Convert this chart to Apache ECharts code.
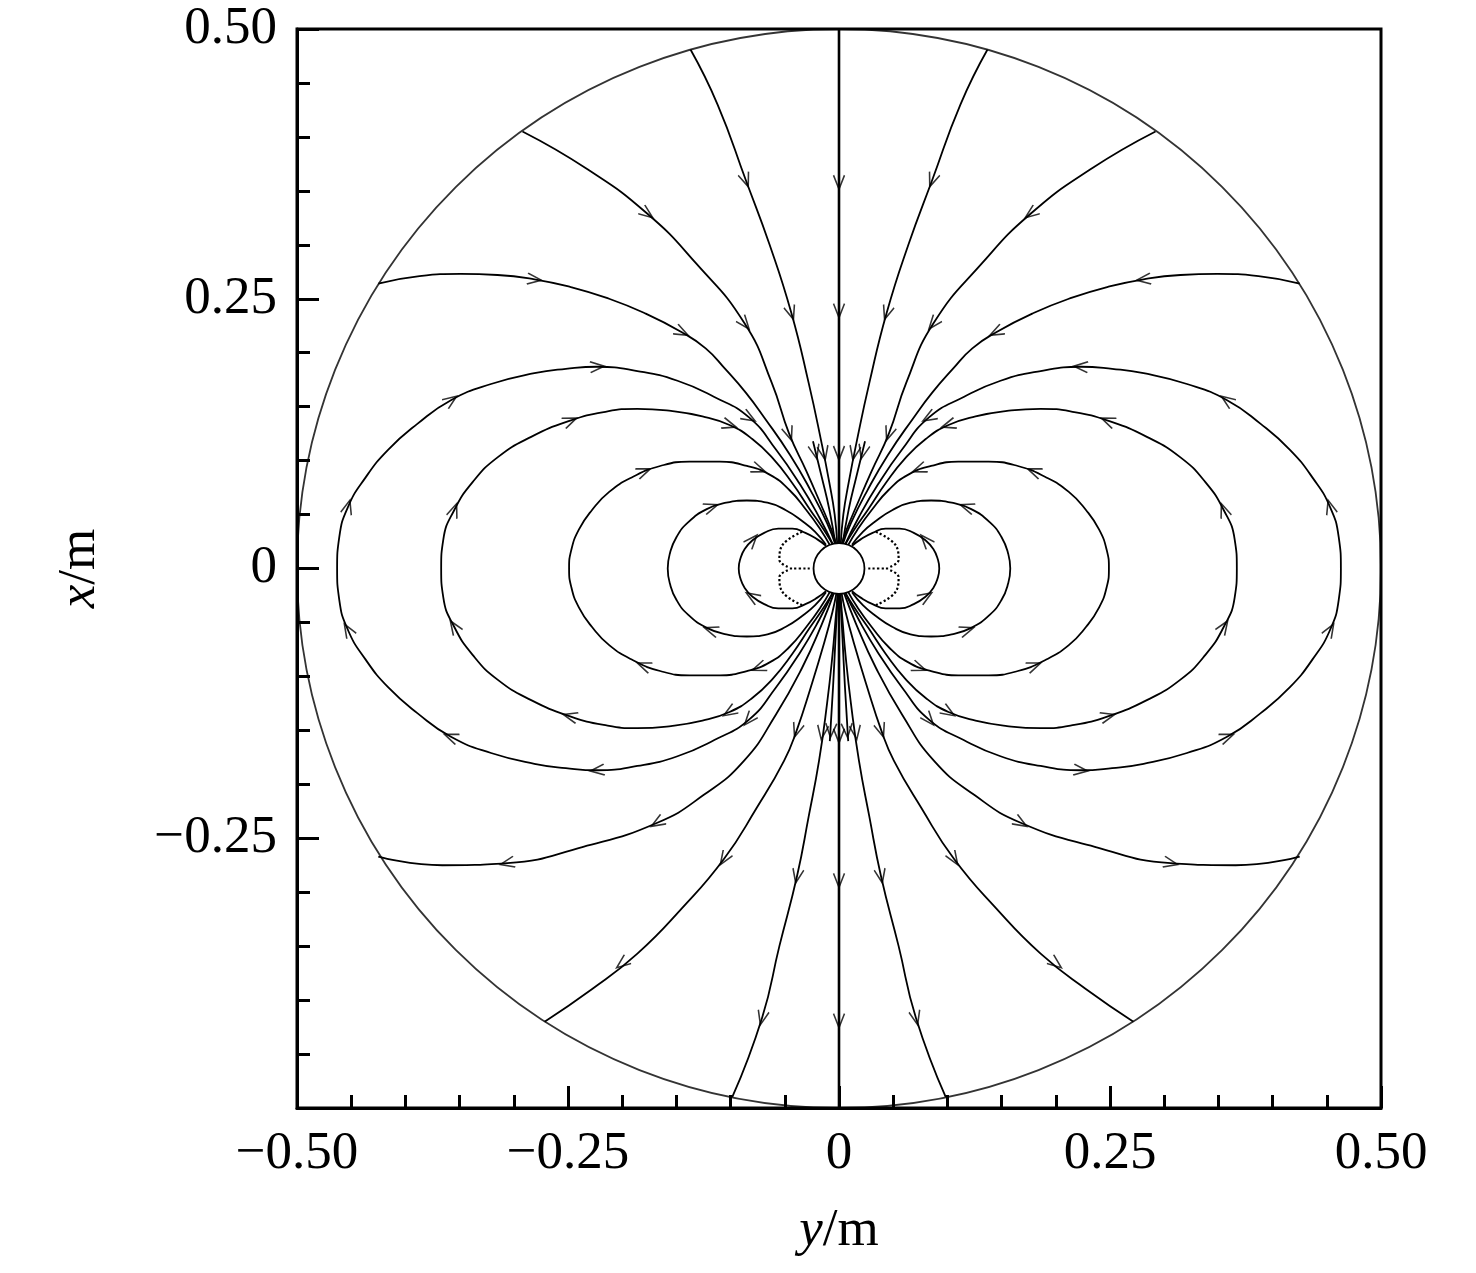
<!DOCTYPE html>
<html>
<head>
<meta charset="utf-8">
<title>field lines</title>
<script src="https://cdn.jsdelivr.net/npm/echarts/dist/echarts.min.js"></script>
<style>
html, body { margin: 0; padding: 0; background: #fff; }
#main { width: 1476px; height: 1273px; }
</style>
</head>
<body>
<div id="main"></div>
<script>
// axis range (m)
var axisMin = -0.5, axisMax = 0.5, axisStep = 0.25;

// boundary circles (m)
var outerRadius = 0.5;
var innerRadius = 0.0235;

// straight field line on the axis, top to bottom
var verticalLine = [[0, 0.5], [0, -0.5]];

// right half, upper side: from the outer circle in to the pole
var topOpenLines = [
	[[0.137, 0.481], [0.112, 0.430], [0.086, 0.360], [0.064, 0.300], [0.044, 0.237], [0.028, 0.172], [0.016, 0.116], [0.009, 0.080], [0.004, 0.050], [0.0015, 0.021]],
	[[0.292, 0.405], [0.232, 0.370], [0.177, 0.329], [0.132, 0.283], [0.087, 0.227], [0.062, 0.172], [0.046, 0.125], [0.030, 0.090], [0.017, 0.060], [0.007, 0.036], [0.002, 0.021]],
	[[0.425, 0.264], [0.387, 0.271], [0.349, 0.273], [0.315, 0.272], [0.281, 0.268], [0.248, 0.261], [0.215, 0.251], [0.180, 0.237], [0.145, 0.219], [0.123, 0.204], [0.105, 0.185], [0.086, 0.163], [0.069, 0.140], [0.045, 0.105], [0.026, 0.072], [0.011, 0.042], [0.003, 0.021]]
];
var topShortLines = [
	[[0.024, 0.118], [0.016, 0.085], [0.009, 0.055], [0.003, 0.021]]
];

// right half, lower side: from the outer circle in to the pole
var bottomOpenLines = [
	[[0.0985, -0.490], [0.071, -0.4165], [0.055, -0.350], [0.0387, -0.285], [0.028, -0.230], [0.0184, -0.178], [0.011, -0.125], [0.006, -0.080], [0.003, -0.045], [0.001, -0.021]],
	[[0.2716, -0.420], [0.228, -0.390], [0.186, -0.357], [0.145, -0.315], [0.106, -0.269], [0.076, -0.222], [0.0506, -0.178], [0.039, -0.150], [0.026, -0.110], [0.014, -0.070], [0.006, -0.040], [0.002, -0.021]],
	[[0.425, -0.267], [0.366, -0.275], [0.306, -0.273], [0.236, -0.258], [0.1676, -0.2356], [0.125, -0.210], [0.0875, -0.178], [0.058, -0.135], [0.034, -0.092], [0.016, -0.052], [0.004, -0.021]]
];
var bottomShortLines = [
	[[0.0085, -0.160], [0.0055, -0.110], [0.003, -0.060], [0.001, -0.021]]
];

// closed loops, upper half: from the equator in to the pole
var loopHalves = [
	[[0.463, 0], [0.461, 0.029], [0.453, 0.057], [0.437, 0.084], [0.416, 0.110], [0.389, 0.134], [0.358, 0.156], [0.321, 0.171], [0.281, 0.181], [0.252, 0.185], [0.223, 0.187], [0.186, 0.183], [0.149, 0.174], [0.115, 0.159], [0.083, 0.140], [0.058, 0.110], [0.036, 0.078], [0.018, 0.047], [0.005, 0.021]],
	[[0.367, 0], [0.365, 0.027], [0.355, 0.054], [0.338, 0.080], [0.315, 0.103], [0.284, 0.122], [0.248, 0.137], [0.217, 0.145], [0.186, 0.148], [0.155, 0.146], [0.126, 0.141], [0.101, 0.133], [0.080, 0.120], [0.061, 0.102], [0.043, 0.079], [0.027, 0.055], [0.014, 0.036], [0.005, 0.021]],
	[[0.249, 0], [0.247, 0.017], [0.240, 0.036], [0.228, 0.054], [0.212, 0.071], [0.190, 0.085], [0.165, 0.095], [0.138, 0.099], [0.110, 0.099], [0.085, 0.095], [0.064, 0.087], [0.046, 0.073], [0.030, 0.054], [0.017, 0.036], [0.008, 0.021]],
	[[0.158, 0], [0.156, 0.014], [0.150, 0.029], [0.139, 0.043], [0.122, 0.055], [0.104, 0.061], [0.085, 0.063], [0.066, 0.061], [0.049, 0.054], [0.034, 0.044], [0.022, 0.034], [0.012, 0.022]],
	[[0.0925, 0], [0.091, 0.009], [0.087, 0.018], [0.080, 0.026], [0.069, 0.033], [0.056, 0.037], [0.043, 0.037], [0.031, 0.033], [0.020, 0.027], [0.012, 0.021]]
];

// broken bits of line left between the inner loop and the pole circle
var noiseCurves = [
	[[0.034, 0.034], [0.052, 0.022], [0.055, 0.008], [0.046, 0.001]],
	[[0.034, -0.034], [0.052, -0.022], [0.055, -0.008], [0.046, -0.001]],
	[[0.027, 0], [0.046, 0]]
];

// arrow heads (right half)
var topArrows = [
	[0, 0.358], [0, 0.239], [0, 0.107],
	[0.086, 0.360], [0.044, 0.237], [0.014, 0.107],
	[0.177, 0.329], [0.087, 0.227], [0.046, 0.125],
	[0.281, 0.268], [0.145, 0.219],
	[0.022, 0.108]
];
var bottomArrows = [
	[0, -0.155], [0, -0.289], [0, -0.419],
	[0.0155, -0.152], [0.0387, -0.285], [0.071, -0.4165],
	[0.039, -0.150], [0.106, -0.269], [0.200, -0.366],
	[0.1676, -0.2356], [0.306, -0.273],
	[0.0075, -0.150]
];
var loopArrows = [
	[0.453, 0.057], [0.358, 0.156], [0.223, 0.187], [0.083, 0.140],
	[0.355, 0.054], [0.248, 0.137], [0.101, 0.133],
	[0.180, 0.090], [0.074, 0.092],
	[0.118, 0.057],
	[0.080, 0.026]
];

var chartW = 1476, chartH = 1273;
var gridLeft = 297, gridRight = 95, gridTop = 29, gridBottom = 165;
var pxX = (chartW - gridLeft - gridRight) / (axisMax - axisMin);
var pxY = (chartH - gridTop - gridBottom) / (axisMax - axisMin);
var serif = 'Liberation Serif, Times New Roman, serif';

function mirrorH(p) { return p.map(function (q) { return [-q[0], q[1]]; }); }
function mirrorV(p) { return p.map(function (q) { return [q[0], -q[1]]; }); }

// every path ordered along the flow direction
var rightPaths = [];
topOpenLines.concat(topShortLines).forEach(function (l) { rightPaths.push(l); });
bottomOpenLines.concat(bottomShortLines).forEach(function (l) { rightPaths.push(l.slice().reverse()); });
loopHalves.forEach(function (l) {
	rightPaths.push(mirrorV(l).reverse().concat(l.slice(1)));
});
var paths = [verticalLine];
rightPaths.forEach(function (p) { paths.push(p, mirrorH(p)); });

// direction of the nearest path segment, as a symbol rotation
function flowAngle(pt) {
	var best = Infinity, dir = [0, -1];
	var px = pt[0] * pxX, py = pt[1] * pxY;
	paths.forEach(function (p) {
		for (var i = 0; i < p.length - 1; i++) {
			var ax = p[i][0] * pxX, ay = p[i][1] * pxY;
			var dx = p[i + 1][0] * pxX - ax, dy = p[i + 1][1] * pxY - ay;
			var L = dx * dx + dy * dy;
			var t = L ? Math.max(0, Math.min(1, ((px - ax) * dx + (py - ay) * dy) / L)) : 0;
			var ex = ax + t * dx - px, ey = ay + t * dy - py;
			var d = ex * ex + ey * ey;
			if (d < best) { best = d; dir = [dx, dy]; }
		}
	});
	return Math.atan2(dir[1], dir[0]) * 180 / Math.PI - 90;
}

var arrowPts = [];
topArrows.concat(bottomArrows, loopArrows, mirrorV(loopArrows)).forEach(function (a) {
	arrowPts.push(a);
	if (a[0] !== 0) arrowPts.push([-a[0], a[1]]);
});
var arrowData = arrowPts.map(function (a) {
	return { value: a, symbolRotate: flowAngle(a) };
});

function tickLabel(v) {
	if (Math.abs(v) < 1e-9) return '0';
	return (v < 0 ? '\u2212' : '') + Math.abs(v).toFixed(2);
}

var series = [];
paths.forEach(function (p, i) {
	series.push({
		type: 'line',
		data: p,
		smooth: 0.5,
		showSymbol: false,
		silent: true,
		z: 2,
		lineStyle: { color: '#000', width: i === 0 ? 2.6 : 1.8 }
	});
});
noiseCurves.forEach(function (p) {
	[p, mirrorH(p)].forEach(function (q) {
		series.push({
			type: 'line',
			data: q,
			smooth: 0.4,
			showSymbol: false,
			silent: true,
			z: 2,
			lineStyle: { color: '#000', width: 2.2, type: 'dotted' }
		});
	});
});
series.push({
	type: 'scatter',
	data: arrowData,
	symbol: 'path://M0,10L5,0L10,10',
	symbolSize: [11, 14],
	silent: true,
	z: 3,
	itemStyle: { color: 'transparent', borderColor: '#000', borderWidth: 1.7 }
});
// outer boundary circle
series.push({
	type: 'scatter',
	data: [[0, 0]],
	symbol: 'circle',
	symbolSize: [2 * outerRadius * pxX, 2 * outerRadius * pxY],
	silent: true,
	z: 2,
	itemStyle: { color: 'transparent', borderColor: '#000', borderWidth: 1.8 }
});
// pole circle
series.push({
	type: 'scatter',
	data: [[0, 0]],
	symbol: 'circle',
	symbolSize: [2 * innerRadius * pxX, 2 * innerRadius * pxY],
	silent: true,
	z: 5,
	itemStyle: { color: '#fff', borderColor: '#000', borderWidth: 1.8, opacity: 1 }
});

function axisBase() {
	return {
		type: 'value',
		min: axisMin,
		max: axisMax,
		interval: axisStep,
		nameLocation: 'middle',
		nameMoveOverlap: false,
		axisLine: { show: true, onZero: false, lineStyle: { color: '#000', width: 3 } },
		axisTick: { show: true, inside: true, length: 22, lineStyle: { color: '#000', width: 3 } },
		minorTick: { show: true, splitNumber: 5, length: 13, lineStyle: { color: '#000', width: 3 } },
		splitLine: { show: false },
		axisLabel: { formatter: tickLabel, margin: 20, color: '#000', fontSize: 53, fontFamily: serif },
		nameTextStyle: {
			color: '#000', fontSize: 53, fontFamily: serif,
			rich: { i: { fontStyle: 'italic', color: '#000', fontSize: 53, fontFamily: serif } }
		}
	};
}

var xAxis = axisBase();
xAxis.name = '{i|y}/m';
xAxis.nameGap = 97;
var yAxis = axisBase();
yAxis.name = '{i|x}/m';
yAxis.nameGap = 190;
yAxis.nameRotate = 90;
yAxis.axisLabel.showMinLabel = false;

var myChart = echarts.init(document.getElementById('main'));
option = {
	animation: false,
	backgroundColor: '#fff',
	grid: {
		left: gridLeft, right: gridRight, top: gridTop, bottom: gridBottom,
		show: true, borderColor: '#000', borderWidth: 3,
		containLabel: false, outerBoundsMode: 'none'
	},
	xAxis: xAxis,
	yAxis: yAxis,
	series: series
};
myChart.setOption(option);
</script>
</body>
</html>
